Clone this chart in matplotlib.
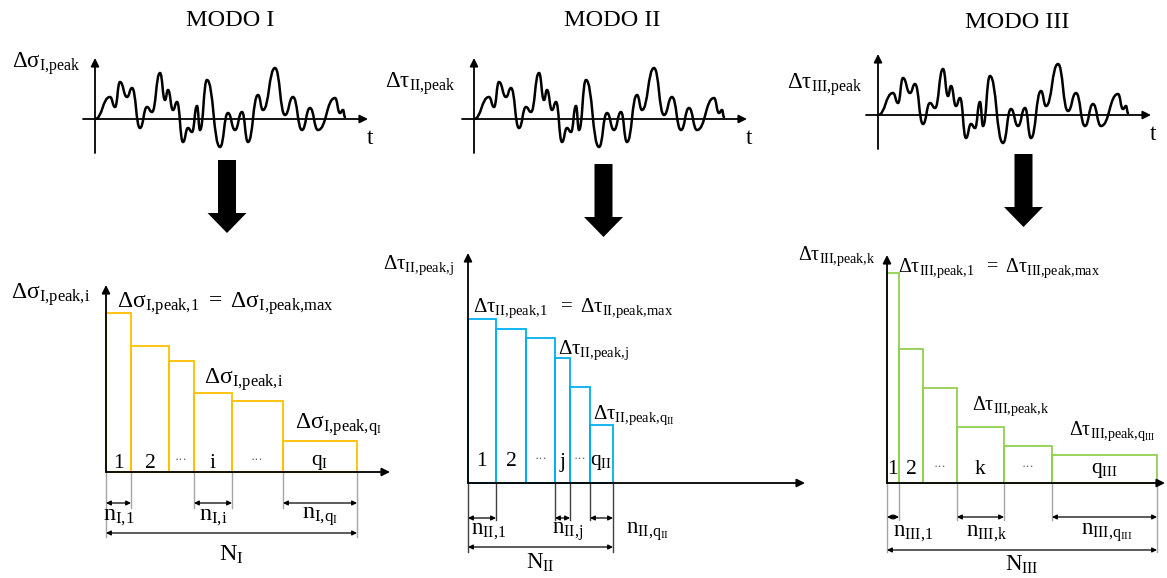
import numpy as np
import matplotlib.pyplot as plt
from matplotlib.path import Path
from matplotlib.patches import PathPatch, FancyArrow
from matplotlib.transforms import Affine2D

plt.rcParams['font.family'] = 'Liberation Serif'
plt.rcParams['mathtext.fontset'] = 'custom'
plt.rcParams['mathtext.rm'] = 'Liberation Serif'
plt.rcParams['mathtext.it'] = 'Liberation Serif:italic'
plt.rcParams['mathtext.bf'] = 'Liberation Serif:bold'

# ============================================================
# Data
# ============================================================
modes = ["MODO I", "MODO II", "MODO III"]
mode_colors = ["#FFC000", "#00B0F0", "#92D050"]

# peak history (local extrema of the signal): time and amplitude
hist_t = [0, 15, 20, 25, 32, 37, 45, 52, 57, 65, 70, 73, 78, 82, 88, 93, 97,
          102, 105, 112, 125, 133, 140, 147, 153, 163, 168, 180, 190, 198,
          207, 215, 223, 240, 245, 248, 250]
hist_a = [0, 22, 12, 37, 22, 31, -9, 12, 7, 46, 19, 29, 9, 17, -23, -9, -13,
          13, -11, 39, -28, 6, -11, 7, -23, 24, 9, 51, 4, 22,
          -11, 11, -11, 21, 6, 9, 2]

# stepped spectra: number of cycles per block and peak level of the block
cycles_I = [25, 38, 25, 38, 51, 74]
levels_I = [159, 126, 111, 79, 71, 31]
cycles_II = [28, 30, 29, 15, 20, 23]
levels_II = [164, 154, 145, 125, 96, 58]
cycles_III = [12, 24, 34, 47, 48, 105]
levels_III = [210, 134, 95, 56, 37, 28]

sig_labels = [r"\Delta\sigma_{I,peak}", r"\Delta\tau_{II,peak}",
              r"\Delta\tau_{III,peak}"]
spec_ylabels = [r"\Delta\sigma_{I,peak,i}", r"\Delta\tau_{II,peak,j}",
                r"\Delta\tau_{III,peak,k}"]
max_labels = [r"\Delta\sigma_{I,peak,1}\ =\ \Delta\sigma_{I,peak,max}",
              r"\Delta\tau_{II,peak,1}\ \ =\ \Delta\tau_{II,peak,max}",
              r"\Delta\tau_{III,peak,1}\ \ =\ \Delta\tau_{III,peak,max}"]
mid_labels = [r"\Delta\sigma_{I,peak,i}", r"\Delta\tau_{II,peak,j}",
              r"\Delta\tau_{III,peak,k}"]
last_labels = [r"\Delta\sigma_{I,peak,q_I}", r"\Delta\tau_{II,peak,q_{II}}",
               r"\Delta\tau_{III,peak,q_{III}}"]
block_labels = [["1", "2", "...", "i", "...", "q_I"],
                ["1", "2", "...", "j", "...", "q_{II}"],
                ["1", "2", "...", "k", "...", "q_{III}"]]
n_labels = [[r"n_{I,1}", r"n_{I,i}", r"n_{I,q_I}"],
            [r"n_{II,1}", r"n_{II,j}", r"n_{II,q_{II}}"],
            [r"n_{III,1}", r"n_{III,k}", r"n_{III,q_{III}}"]]
total_labels = [r"N_I", r"N_{II}", r"N_{III}"]
dim_blocks = [0, 3, 5]

spectra = [(cycles_I, levels_I), (cycles_II, levels_II), (cycles_III, levels_III)]

# ============================================================
# Layout (pixels, y downward)
# ============================================================
title_pos = [(230, 20), (612, 20), (1017, 22)]
sig_origin = [(95, 119), (474, 119), (878, 115)]
sig_label_pos = [(-14, 55), (-18, 35), (-15, 30)]
big_arrows = [(227, 160, 233), (603.5, 164, 237), (1023.5, 154, 227)]

spec_layout = [
    dict(origin=(106, 472), ytop=187, xend=284, ext=(36, 65), narr=31, Narr=61,
         nlab=45, Nlab=83, ext_color="#a6a6a6", ylab=(-16, 177),
         maxlab=(11, 168), midlab=(98, 92), lastlab=(189, 47), blab=9,
         ndx=[0, 0, 0], fs=17, nfs=17.5),
    dict(origin=(468, 483), ytop=230, xend=337, ext=(37, 69), narr=35, Narr=64,
         nlab=49, Nlab=80, ext_color="#404040", ylab=(-14, 218),
         maxlab=(5, 175), midlab=(90, 133), lastlab=(125, 68), blab=21,
         ndx=[7, 5, 46], fs=15, nfs=16.5),
    dict(origin=(887, 483), ytop=228, xend=278, ext=(37, 69), narr=34, Narr=67,
         nlab=50, Nlab=82, ext_color="#a6a6a6", ylab=(-12, 227),
         maxlab=(11, 215), midlab=(85, 77), lastlab=(182, 52), blab=13,
         ndx=[20, 6, 2], fs=14.5, nfs=16.5),
]


def m(s):
    # upright math text; commas kept tight
    return r"$\mathrm{" + s.replace(",", "{,}") + "}$"


def smooth_path(t, a):
    # cubic segments with flat tangents at every extremum
    verts = [(t[0], a[0])]
    codes = [Path.MOVETO]
    for k in range(len(t) - 1):
        d = (t[k + 1] - t[k]) * 0.5
        verts += [(t[k] + d, a[k]), (t[k + 1] - d, a[k + 1]), (t[k + 1], a[k + 1])]
        codes += [Path.CURVE4] * 3
    return Path(verts, codes)


def arrow(ax, p0, p1, tr, style="-|>", lw=1.3, ms=12, color="k"):
    ax.annotate("", xy=p1, xytext=p0, xycoords=tr, textcoords=tr,
                arrowprops=dict(arrowstyle=style, lw=lw, color=color,
                                mutation_scale=ms, shrinkA=0, shrinkB=0))


fig = plt.figure(figsize=(11.67, 5.78), dpi=100)
ax = fig.add_axes([0, 0, 1, 1])
ax.set_autoscale_on(False)
ax.set_xlim(0, 1167)
ax.set_ylim(578, 0)
ax.axis("off")

for p in range(3):
    # ---------------- title + time history ----------------
    ax.text(*title_pos[p], modes[p], fontsize=17.5, ha="center", va="center")

    ox, oy = sig_origin[p]
    tr = Affine2D().scale(1, -1).translate(ox, oy) + ax.transData
    arrow(ax, (0, -34), (0, 61), tr)
    arrow(ax, (-12, 0), (273, 0), tr)
    ax.add_patch(PathPatch(smooth_path(hist_t, hist_a), fill=False, lw=1.8,
                           edgecolor="k", transform=tr, capstyle="round"))
    ax.text(272, -20, "t", fontsize=16.5, ha="left", va="center", transform=tr)
    lx, ly = sig_label_pos[p]
    ax.text(lx, ly, m(sig_labels[p]), fontsize=16.5, ha="right", va="center",
            transform=tr)

    # ---------------- block arrow ----------------
    bx, btop, btip = big_arrows[p]
    ax.add_patch(FancyArrow(bx, btop, 0, btip - btop, width=18, head_width=39,
                            head_length=20, length_includes_head=True,
                            color="k", lw=0))

    # ---------------- stepped spectrum ----------------
    L = spec_layout[p]
    cycles, levels = spectra[p]
    ox, oy = L["origin"]
    tr = Affine2D().scale(1, -1).translate(ox, oy) + ax.transData
    lefts = np.concatenate([[0], np.cumsum(cycles)[:-1]])
    rights = np.cumsum(cycles)

    ax.bar(lefts, levels, width=cycles, align="edge", fill=False,
           edgecolor=mode_colors[p], linewidth=1.3, transform=tr, zorder=2)
    arrow(ax, (0, 0), (0, L["ytop"]), tr)
    arrow(ax, (0, 0), (L["xend"], 0), tr)

    fs = L["fs"]
    for k, lab in enumerate(block_labels[p]):
        xc = lefts[k] + cycles[k] / 2
        if lab == "...":
            ax.text(xc, L["blab"] + 3, "\u00b7\u00b7\u00b7", fontsize=9,
                    color="#555555", ha="center", va="center", transform=tr)
        else:
            ax.text(xc, L["blab"], m(lab), fontsize=15.5, ha="center",
                    va="center", transform=tr)

    ax.text(*L["ylab"], m(spec_ylabels[p]), fontsize=fs, ha="right",
            va="center", transform=tr)
    for key, s in zip(["maxlab", "midlab", "lastlab"],
                      [max_labels[p], mid_labels[p], last_labels[p]]):
        ax.text(*L[key], m(s), fontsize=fs, ha="left", va="center",
                transform=tr)

    # dimension lines
    short, long_ = L["ext"]
    ec = L["ext_color"]
    for j, b in enumerate(dim_blocks):
        for x, edge_first, edge_last in [(lefts[b], b == 0, False),
                                          (rights[b], False, b == len(cycles) - 1)]:
            depth = long_ if (edge_first or edge_last) else short
            ax.plot([x, x], [0, -depth], color=ec, lw=1.0, transform=tr, zorder=1)
        arrow(ax, (lefts[b], -L["narr"]), (rights[b], -L["narr"]), tr,
              style="<|-|>", lw=0.9, ms=7)
        ax.text(lefts[b] + cycles[b] / 2 + L["ndx"][j], -L["nlab"],
                m(n_labels[p][j]), fontsize=L["nfs"], ha="center", va="center",
                transform=tr)
    arrow(ax, (0, -L["Narr"]), (rights[-1], -L["Narr"]), tr,
          style="<|-|>", lw=0.9, ms=7)
    ax.text(rights[-1] / 2, -L["Nlab"], m(total_labels[p]), fontsize=L["nfs"],
            ha="center", va="center", transform=tr)

fig.savefig("out.png", dpi=100)
